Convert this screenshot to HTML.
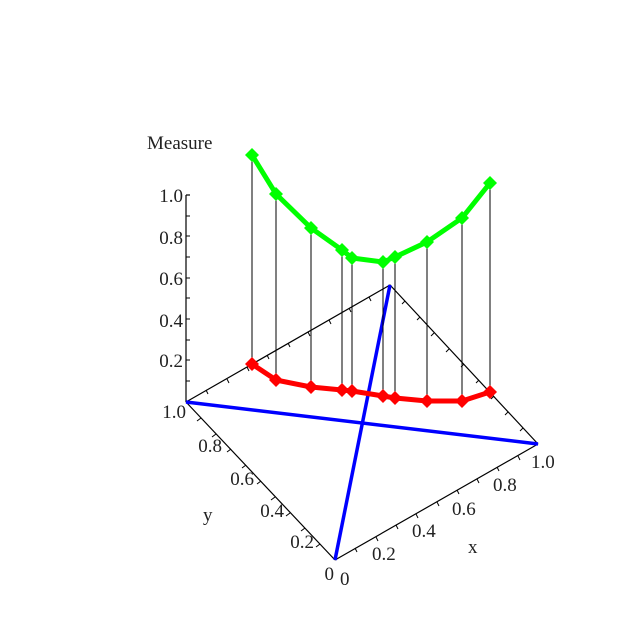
<!DOCTYPE html>
<html><head><style>body{margin:0;background:#fff}svg{display:block}text{font-family:"Liberation Serif",serif;font-size:19px;fill:#222}</style></head>
<body>
<svg width="640" height="640" viewBox="0 0 640 640">
<g stroke="#000" stroke-width="1.2" fill="none">
<polyline points="186,402 390,285 538,444"/>
<line x1="186" y1="402" x2="335" y2="560"/>
<line x1="335" y1="560" x2="538" y2="444"/>
<line x1="186" y1="402" x2="186" y2="195"/>
<line x1="186" y1="195" x2="190" y2="195"/>
</g>
<g stroke="#000" stroke-width="1">
<line x1="186" y1="381" x2="190" y2="381"/><line x1="186" y1="360" x2="190" y2="360"/>
<line x1="186" y1="340" x2="190" y2="340"/><line x1="186" y1="319" x2="190" y2="319"/>
<line x1="186" y1="298" x2="190" y2="298"/><line x1="186" y1="278" x2="190" y2="278"/>
<line x1="186" y1="257" x2="190" y2="257"/><line x1="186" y1="236" x2="190" y2="236"/>
<line x1="186" y1="216" x2="190" y2="216"/>
<!-- back edge ticks -->
<line x1="206" y1="390" x2="208" y2="394"/><line x1="227" y1="379" x2="229" y2="383"/><line x1="247" y1="367" x2="249" y2="371"/><line x1="267" y1="355" x2="269" y2="359"/><line x1="288" y1="343" x2="290" y2="347"/><line x1="308" y1="332" x2="310" y2="336"/><line x1="329" y1="320" x2="331" y2="324"/><line x1="349" y1="308" x2="351" y2="312"/><line x1="369" y1="297" x2="371" y2="301"/>
<line x1="405" y1="301" x2="402" y2="304"/><line x1="420" y1="317" x2="417" y2="320"/><line x1="434" y1="333" x2="431" y2="336"/><line x1="449" y1="349" x2="446" y2="352"/><line x1="464" y1="364" x2="461" y2="367"/><line x1="479" y1="380" x2="476" y2="383"/><line x1="494" y1="396" x2="491" y2="399"/><line x1="508" y1="412" x2="505" y2="415"/><line x1="523" y1="428" x2="520" y2="431"/>
<!-- front y ticks -->
<line x1="201" y1="418" x2="197" y2="421"/><line x1="216" y1="434" x2="212" y2="437"/><line x1="231" y1="449" x2="227" y2="452"/><line x1="246" y1="465" x2="242" y2="468"/><line x1="261" y1="481" x2="257" y2="484"/><line x1="275" y1="497" x2="271" y2="500"/><line x1="290" y1="513" x2="286" y2="516"/><line x1="305" y1="528" x2="301" y2="531"/><line x1="320" y1="544" x2="316" y2="547"/>
<!-- front x ticks -->
<line x1="355" y1="548" x2="357" y2="552"/><line x1="376" y1="537" x2="378" y2="541"/><line x1="396" y1="525" x2="398" y2="529"/><line x1="416" y1="514" x2="418" y2="518"/><line x1="437" y1="502" x2="439" y2="506"/><line x1="457" y1="490" x2="459" y2="494"/><line x1="477" y1="479" x2="479" y2="483"/><line x1="497" y1="467" x2="499" y2="471"/><line x1="518" y1="456" x2="520" y2="460"/>
</g>
<g stroke="#00f" stroke-width="3.5">
<line x1="186" y1="402" x2="538" y2="444"/>
<line x1="335" y1="560" x2="390" y2="285"/>
</g>
<g stroke="#000" stroke-width="1">
<line x1="252" y1="155" x2="252" y2="364"/><line x1="276" y1="194" x2="276" y2="380"/><line x1="311" y1="228" x2="311" y2="387"/><line x1="342" y1="250" x2="342" y2="390"/><line x1="352" y1="258" x2="352" y2="391"/><line x1="383" y1="262" x2="383" y2="396"/><line x1="395" y1="257" x2="395" y2="398"/><line x1="427" y1="242" x2="427" y2="401"/><line x1="462" y1="218" x2="462" y2="401"/><line x1="490" y1="183" x2="490" y2="392"/>
</g>
<polyline fill="none" stroke="#0f0" stroke-width="5" stroke-linejoin="round" points="252,155 276,194 311,228 342,250 352,258 383,262 395,257 427,242 462,218 490,183"/>
<polyline fill="none" stroke="#f00" stroke-width="5" stroke-linejoin="round" points="252,364 276,380 311,387 342,390 352,391 383,396 395,398 427,401 462,401 490,392"/>
<g fill="#0f0">
<path d="M252 148l7 7-7 7-7-7z"/><path d="M276 187l7 7-7 7-7-7z"/><path d="M311 221l7 7-7 7-7-7z"/><path d="M342 243l7 7-7 7-7-7z"/><path d="M352 251l7 7-7 7-7-7z"/><path d="M383 255l7 7-7 7-7-7z"/><path d="M395 250l7 7-7 7-7-7z"/><path d="M427 235l7 7-7 7-7-7z"/><path d="M462 211l7 7-7 7-7-7z"/><path d="M490 176l7 7-7 7-7-7z"/>
</g>
<g fill="#f00">
<path d="M252 357l7 7-7 7-7-7z"/><path d="M276 373l7 7-7 7-7-7z"/><path d="M311 380l7 7-7 7-7-7z"/><path d="M342 383l7 7-7 7-7-7z"/><path d="M352 384l7 7-7 7-7-7z"/><path d="M383 389l7 7-7 7-7-7z"/><path d="M395 391l7 7-7 7-7-7z"/><path d="M427 394l7 7-7 7-7-7z"/><path d="M462 394l7 7-7 7-7-7z"/><path d="M490 385l7 7-7 7-7-7z"/>
</g>
<text x="147" y="149">Measure</text>
<g text-anchor="end">
<text x="183" y="202">1.0</text><text x="183" y="244">0.8</text><text x="183" y="285">0.6</text><text x="183" y="327">0.4</text><text x="183" y="367">0.2</text>
<text x="186" y="418">1.0</text><text x="222" y="452">0.8</text><text x="254" y="485">0.6</text><text x="284" y="517">0.4</text><text x="314" y="548">0.2</text><text x="334" y="580">0</text>
</g>
<text x="340" y="585">0</text><text x="372" y="560">0.2</text><text x="412" y="537">0.4</text><text x="452" y="515">0.6</text><text x="493" y="491">0.8</text><text x="531" y="468">1.0</text>
<text x="203" y="521">y</text><text x="468" y="553">x</text>
</svg>
</body></html>
